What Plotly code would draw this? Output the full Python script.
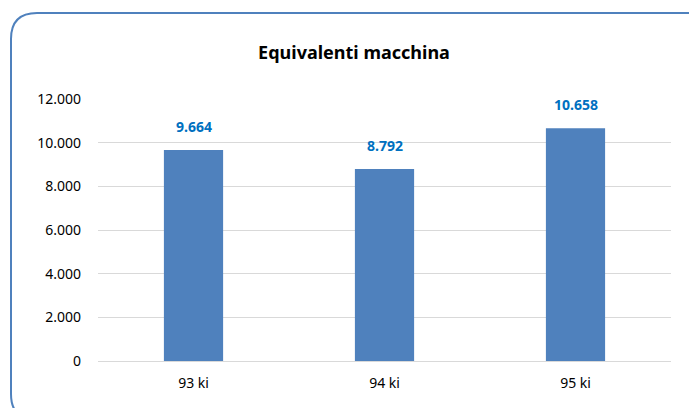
import plotly.graph_objects as go

categories = ["93 ki", "94 ki", "95 ki"]
values = [9664, 8792, 10658]
tick_vals = [0, 2000, 4000, 6000, 8000, 10000, 12000]
tick_text = ["0", "2.000", "4.000", "6.000", "8.000", "10.000", "12.000"]
label_text = ["9.664", "8.792", "10.658"]
title = "Equivalenti macchina"

W, H = 689, 408
L, R, T, B = 98, 18, 99, 47
pw, ph = W - L - R, H - T - B

def px(x):
    return (x - L) / pw

def py(y):
    return (H - B - y) / ph

FONT = "Noto Sans"

fig = go.Figure()
fig.add_trace(go.Bar(x=categories, y=values, width=0.31,
                     marker=dict(color="#4F81BD", line=dict(width=0)),
                     hoverinfo="skip"))

for c, v, t in zip(categories, values, label_text):
    fig.add_annotation(x=c, y=v, text="<b>%s</b>" % t, showarrow=False,
                       yanchor="bottom", yshift=12,
                       font=dict(family=FONT, size=14, color="#0070C0"))

# rounded border
r = 26
x0, y0 = 11, 13
x1, y1 = 720, 420
path = (f"M {px(x0)},{py(y0 + r)} Q {px(x0)},{py(y0)} {px(x0 + r)},{py(y0)} "
        f"L {px(x1)},{py(y0)} L {px(x1)},{py(y1)} L {px(x0 + r)},{py(y1)} "
        f"Q {px(x0)},{py(y1)} {px(x0)},{py(y1 - r)} Z")
fig.add_shape(type="path", path=path, xref="paper", yref="paper",
              line=dict(color="#4F81BD", width=2), layer="above")

fig.update_layout(
    width=W, height=H,
    margin=dict(l=L, r=R, t=T, b=B, autoexpand=False),
    paper_bgcolor="white", plot_bgcolor="white",
    showlegend=False,
    title=dict(text="<b>%s</b>" % title, x=354 / W, xanchor="center",
               y=1 - 53 / H, yanchor="middle",
               font=dict(family=FONT, size=18, color="black")),
    xaxis=dict(showgrid=False, showline=False, ticks="", automargin=False,
               ticklabelstandoff=12,
               tickfont=dict(family=FONT, size=14, color="black")),
    yaxis=dict(range=[0, 12000], tickvals=tick_vals, ticktext=tick_text,
               showgrid=True, gridcolor="#D9D9D9", gridwidth=1,
               zeroline=True, zerolinecolor="#D9D9D9", zerolinewidth=1,
               showline=False, ticks="", ticklabelstandoff=16, automargin=False,
               tickfont=dict(family=FONT, size=14, color="black")),
)

fig.write_html("out.html", config={"displayModeBar": False},
               post_script="document.body.style.margin='0';document.body.style.overflow='hidden';")
